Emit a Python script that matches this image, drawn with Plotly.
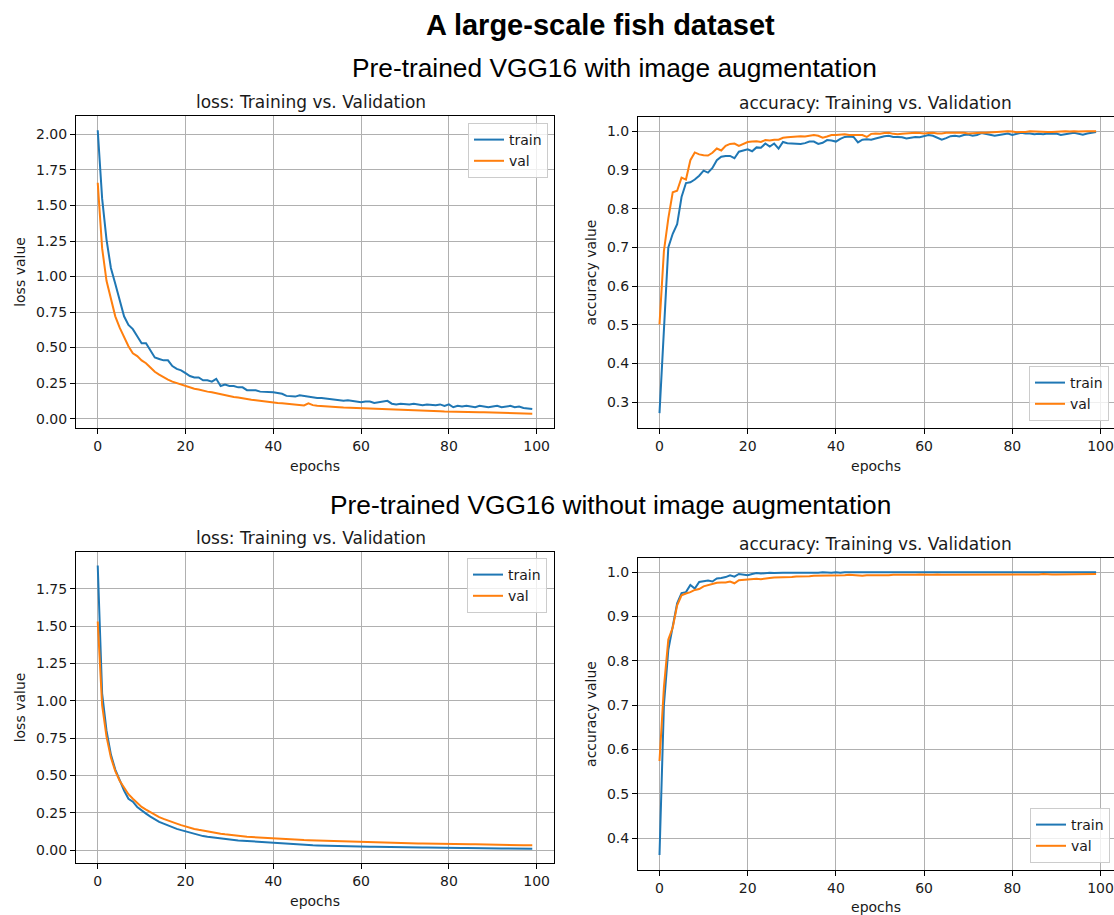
import plotly.graph_objects as go

# ---------------------------------------------------------------------------
# Training history of a pre-trained VGG16 on a large-scale fish dataset
# (100 epochs, with and without image augmentation)
# ---------------------------------------------------------------------------
epochs = list(range(100))

# --- with image augmentation ------------------------------------------------
aug_train_loss = [
    2.03, 1.55, 1.26, 1.06, 0.95, 0.83, 0.72, 0.66, 0.63, 0.58,
    0.53, 0.53, 0.48, 0.43, 0.42, 0.41, 0.41, 0.37, 0.35, 0.34,
    0.32, 0.30, 0.29, 0.29, 0.27, 0.27, 0.26, 0.28, 0.23, 0.24,
    0.23, 0.23, 0.22, 0.22, 0.20, 0.20, 0.20, 0.19, 0.19, 0.19,
    0.185, 0.18, 0.175, 0.16, 0.16, 0.155, 0.165, 0.16, 0.15, 0.145,
    0.145, 0.145, 0.14, 0.135, 0.135, 0.13, 0.125, 0.13, 0.125, 0.12,
    0.115, 0.12, 0.12, 0.11, 0.115, 0.12, 0.125, 0.105, 0.10, 0.105,
    0.10, 0.10, 0.105, 0.10, 0.095, 0.10, 0.095, 0.095, 0.10, 0.09,
    0.10, 0.08, 0.09, 0.085, 0.09, 0.085, 0.08, 0.09, 0.085, 0.08,
    0.085, 0.09, 0.08, 0.085, 0.09, 0.08, 0.085, 0.075, 0.07, 0.068,
]
aug_val_loss = [
    1.66, 1.20, 0.97, 0.84, 0.72, 0.64, 0.57, 0.51, 0.46, 0.44,
    0.41, 0.39, 0.36, 0.33, 0.31, 0.29, 0.275, 0.26, 0.25, 0.24,
    0.228, 0.22, 0.21, 0.205, 0.195, 0.19, 0.185, 0.178, 0.17, 0.165,
    0.158, 0.152, 0.148, 0.142, 0.138, 0.133, 0.13, 0.125, 0.12, 0.115,
    0.112, 0.11, 0.108, 0.106, 0.104, 0.10, 0.098, 0.093, 0.108, 0.095,
    0.09, 0.087, 0.085, 0.083, 0.082, 0.08, 0.078, 0.077, 0.075, 0.073,
    0.072, 0.072, 0.07, 0.07, 0.069, 0.068, 0.067, 0.066, 0.064, 0.063,
    0.062, 0.06, 0.06, 0.058, 0.056, 0.055, 0.054, 0.053, 0.052, 0.05,
    0.05, 0.049, 0.048, 0.047, 0.047, 0.046, 0.045, 0.045, 0.044, 0.043,
    0.042, 0.041, 0.04, 0.04, 0.039, 0.038, 0.037, 0.036, 0.035, 0.035,
]
aug_train_acc = [
    0.272, 0.50, 0.70, 0.735, 0.76, 0.83, 0.866, 0.868, 0.875, 0.885,
    0.898, 0.893, 0.905, 0.925, 0.934, 0.936, 0.936, 0.93, 0.947, 0.95,
    0.953, 0.948, 0.958, 0.957, 0.968, 0.96, 0.968, 0.955, 0.972, 0.969,
    0.968, 0.967, 0.967, 0.969, 0.973, 0.973, 0.967, 0.97, 0.977, 0.976,
    0.973, 0.98, 0.985, 0.986, 0.985, 0.971, 0.978, 0.979, 0.978, 0.981,
    0.985, 0.987, 0.988, 0.985, 0.985, 0.984, 0.981, 0.983, 0.985, 0.984,
    0.987, 0.99, 0.988, 0.984, 0.978, 0.982, 0.987, 0.988, 0.986, 0.99,
    0.991, 0.988, 0.99, 0.995, 0.992, 0.99, 0.988, 0.99, 0.993, 0.994,
    0.99, 0.992, 0.996, 0.994, 0.994, 0.992, 0.993, 0.992, 0.994, 0.993,
    0.994, 0.99, 0.993, 0.994, 0.996, 0.993, 0.991, 0.994, 0.996, 0.998,
]
aug_val_acc = [
    0.501, 0.69, 0.775, 0.842, 0.846, 0.88, 0.875, 0.925, 0.945, 0.94,
    0.938, 0.937, 0.944, 0.955, 0.95, 0.962, 0.967, 0.968, 0.962, 0.968,
    0.972, 0.973, 0.974, 0.972, 0.977, 0.976, 0.978, 0.978, 0.983, 0.984,
    0.985, 0.986, 0.987, 0.986, 0.989, 0.99, 0.988, 0.983, 0.986, 0.99,
    0.99, 0.991, 0.992, 0.99, 0.99, 0.99, 0.99, 0.985, 0.993, 0.994,
    0.993, 0.995, 0.996, 0.993, 0.992, 0.993, 0.994, 0.994, 0.996, 0.995,
    0.994, 0.995, 0.996, 0.994, 0.994, 0.996, 0.996, 0.997, 0.997, 0.996,
    0.994, 0.995, 0.996, 0.996, 0.996, 0.997, 0.997, 0.998, 0.999, 1.0,
    0.999, 0.997, 0.998, 0.998, 1.0, 0.999, 0.999, 0.998, 0.998, 0.998,
    0.999, 0.999, 1.0, 0.999, 1.0, 0.999, 1.0, 1.0, 1.0, 1.0,
]

# --- without image augmentation ---------------------------------------------
noaug_train_loss = [
    1.905, 1.05, 0.80, 0.64, 0.54, 0.47, 0.40, 0.345, 0.325, 0.29,
    0.265, 0.245, 0.225, 0.205, 0.19, 0.178, 0.165, 0.152, 0.143, 0.135,
    0.127, 0.117, 0.108, 0.10, 0.095, 0.09, 0.086, 0.083, 0.08, 0.076,
    0.072, 0.068, 0.066, 0.064, 0.062, 0.058, 0.055, 0.053, 0.05, 0.048,
    0.046, 0.045, 0.043, 0.042, 0.04, 0.039, 0.038, 0.036, 0.034, 0.033,
    0.032, 0.031, 0.031, 0.03, 0.029, 0.028, 0.028, 0.027, 0.027, 0.026,
    0.025, 0.025, 0.024, 0.024, 0.023, 0.022, 0.022, 0.021, 0.021, 0.02,
    0.02, 0.019, 0.019, 0.018, 0.018, 0.018, 0.017, 0.017, 0.017, 0.016,
    0.016, 0.016, 0.015, 0.015, 0.015, 0.014, 0.014, 0.014, 0.013, 0.013,
    0.013, 0.013, 0.012, 0.012, 0.012, 0.012, 0.011, 0.011, 0.011, 0.011,
]
noaug_val_loss = [
    1.53, 0.97, 0.76, 0.62, 0.53, 0.465, 0.42, 0.375, 0.345, 0.315,
    0.29, 0.272, 0.255, 0.238, 0.222, 0.21, 0.198, 0.188, 0.178, 0.168,
    0.158, 0.15, 0.143, 0.137, 0.131, 0.125, 0.12, 0.115, 0.111, 0.107,
    0.103, 0.10, 0.097, 0.094, 0.091, 0.089, 0.087, 0.085, 0.082, 0.08,
    0.078, 0.077, 0.075, 0.074, 0.072, 0.071, 0.07, 0.068, 0.067, 0.066,
    0.065, 0.064, 0.063, 0.062, 0.061, 0.06, 0.059, 0.058, 0.057, 0.056,
    0.055, 0.054, 0.054, 0.053, 0.052, 0.052, 0.051, 0.05, 0.05, 0.049,
    0.048, 0.048, 0.047, 0.046, 0.046, 0.045, 0.045, 0.044, 0.044, 0.043,
    0.043, 0.042, 0.042, 0.041, 0.041, 0.04, 0.04, 0.039, 0.039, 0.038,
    0.038, 0.037, 0.037, 0.036, 0.036, 0.035, 0.035, 0.034, 0.034, 0.034,
]
noaug_train_acc = [
    0.362, 0.70, 0.825, 0.88, 0.93, 0.953, 0.955, 0.971, 0.963, 0.978,
    0.98, 0.981, 0.979, 0.986, 0.987, 0.989, 0.993, 0.99, 0.996, 0.994,
    0.993, 0.996, 0.998, 0.997, 0.998, 0.999, 0.998, 0.999, 0.999, 0.999,
    0.999, 0.999, 0.999, 0.999, 0.998, 0.999, 0.999, 1.0, 0.999, 0.999,
    1.0, 0.999, 1.0, 1.0, 0.999, 1.0, 1.0, 1.0, 0.999, 1.0,
    1.0, 1.0, 0.999, 1.0, 1.0, 1.0, 1.0, 0.999, 1.0, 1.0,
    1.0, 1.0, 1.0, 1.0, 0.999, 1.0, 1.0, 1.0, 1.0, 1.0,
    1.0, 1.0, 1.0, 0.999, 1.0, 1.0, 1.0, 1.0, 1.0, 1.0,
    1.0, 1.0, 1.0, 1.0, 1.0, 1.0, 0.999, 1.0, 1.0, 1.0,
    1.0, 1.0, 1.0, 1.0, 1.0, 1.0, 1.0, 1.0, 1.0, 1.0,
]
noaug_val_acc = [
    0.574, 0.74, 0.848, 0.875, 0.925, 0.948, 0.952, 0.955, 0.96, 0.962,
    0.968, 0.971, 0.973, 0.976, 0.977, 0.977, 0.979, 0.975, 0.982, 0.983,
    0.984, 0.984, 0.985, 0.984, 0.986, 0.987, 0.988, 0.988, 0.989, 0.989,
    0.989, 0.99, 0.99, 0.991, 0.991, 0.992, 0.992, 0.992, 0.993, 0.993,
    0.993, 0.993, 0.993, 0.994, 0.993, 0.993, 0.992, 0.993, 0.993, 0.992,
    0.992, 0.993, 0.993, 0.994, 0.994, 0.994, 0.993, 0.994, 0.994, 0.995,
    0.994, 0.994, 0.994, 0.995, 0.994, 0.994, 0.994, 0.995, 0.995, 0.994,
    0.994, 0.994, 0.995, 0.995, 0.995, 0.995, 0.995, 0.994, 0.995, 0.995,
    0.995, 0.995, 0.995, 0.995, 0.995, 0.995, 0.995, 0.996, 0.995, 0.995,
    0.995, 0.995, 0.996, 0.996, 0.995, 0.995, 0.996, 0.996, 0.996, 0.996,
]

series_labels = ["train", "val"]
panel_titles = ["loss: Training vs. Validation", "accuracy: Training vs. Validation"]
y_titles = ["loss value", "accuracy value"]
x_title = "epochs"
main_title = "A large-scale fish dataset"
row_titles = [
    "Pre-trained VGG16 with image augmentation",
    "Pre-trained VGG16 without image augmentation",
]

# ---------------------------------------------------------------------------
W, H = 1114, 915
BLUE, ORANGE = "#1f77b4", "#ff7f0e"
FONT = "DejaVu Sans"
TEXT = "#1a1a1a"


def fx(px):
    return px / W


def fy(py):
    return 1 - py / H


# axis boxes in pixels: (left, right, top, bottom)
panels = [
    dict(box=(76, 554, 116, 428), yr=[-0.066, 2.13], xr=[-4.95, 103.95], fmt=".2f", dt=0.25,
         data=(aug_train_loss, aug_val_loss), kind=0, title_x=311,
         leg=dict(x=fx(548), y=fy(123), xanchor="right", yanchor="top")),
    dict(box=(638, 1114, 117, 428), yr=[0.2335, 1.0365], xr=[-4.875, 103.06], fmt=".1f", dt=0.1,
         data=(aug_train_acc, aug_val_acc), kind=1, title_x=875,
         leg=dict(x=fx(1109), y=fy(421), xanchor="right", yanchor="bottom")),
    dict(box=(76, 554, 552, 863), yr=[-0.085, 1.995], xr=[-4.95, 103.95], fmt=".2f", dt=0.25,
         data=(noaug_train_loss, noaug_val_loss), kind=0, title_x=311,
         leg=dict(x=fx(547), y=fy(558), xanchor="right", yanchor="top")),
    dict(box=(638, 1114, 558, 870), yr=[0.328, 1.032], xr=[-4.875, 103.06], fmt=".1f", dt=0.1,
         data=(noaug_train_acc, noaug_val_acc), kind=1, title_x=875,
         leg=dict(x=fx(1110), y=fy(863), xanchor="right", yanchor="bottom")),
]

fig = go.Figure()
layout = dict(
    width=W, height=H, margin=dict(l=0, r=0, t=0, b=0),
    template="none", paper_bgcolor="white", plot_bgcolor="white",
    font=dict(family=FONT, size=14, color=TEXT),
    showlegend=True, annotations=[],
)

for i, p in enumerate(panels):
    n = "" if i == 0 else str(i + 1)
    xa, ya = "x" + n, "y" + n
    leg = "legend" + n
    l, r, t, b = p["box"]
    for vals, name, col in zip(p["data"], series_labels, [BLUE, ORANGE]):
        fig.add_trace(go.Scatter(
            x=epochs, y=vals, mode="lines", name=name,
            line=dict(color=col, width=2), xaxis=xa, yaxis=ya, legend=leg,
        ))
    right_col = p["kind"] == 1
    common = dict(
        showline=True, linecolor="black", linewidth=1,
        ticks="outside", ticklen=5, tickwidth=1, tickcolor="black",
        showgrid=True, gridcolor="#b0b0b0", gridwidth=1, zeroline=False,
        tickfont=dict(family=FONT, size=14, color=TEXT), automargin=False,
        ticklabeloverflow="allow",
    )
    layout["xaxis" + n] = dict(
        common, domain=[fx(l), fx(r)], range=p["xr"], anchor=ya,
        tick0=0, dtick=20, mirror=True,
        title=dict(text=x_title, font=dict(family=FONT, size=14, color=TEXT), standoff=8),
    )
    layout["yaxis" + n] = dict(
        common, domain=[fy(b), fy(t)], range=p["yr"], anchor=xa,
        tick0=0, dtick=p["dt"], tickformat=p["fmt"], mirror=not right_col,
        title=dict(text=y_titles[p["kind"]], font=dict(family=FONT, size=14, color=TEXT), standoff=7),
    )
    layout[leg] = dict(
        p["leg"], bgcolor="rgba(255,255,255,0.8)", bordercolor="#cccccc", borderwidth=1,
        font=dict(family=FONT, size=14, color=TEXT), traceorder="normal",
        itemwidth=30, tracegroupgap=0,
    )
    # panel title
    layout["annotations"].append(dict(
        text=panel_titles[p["kind"]], x=fx(p["title_x"]), y=fy(t - 14),
        xref="paper", yref="paper", xanchor="center", yanchor="middle", showarrow=False,
        font=dict(family=FONT, size=17, color=TEXT),
    ))

# figure heading and row headings
layout["annotations"].append(dict(
    text="<b>" + main_title + "</b>", x=fx(600), y=fy(25), xref="paper", yref="paper",
    xanchor="center", yanchor="middle", showarrow=False,
    font=dict(family="Liberation Sans", size=29, color="black"),
))
for txt, (cx, cy) in zip(row_titles, [(614, 68), (610, 505)]):
    layout["annotations"].append(dict(
        text=txt, x=fx(cx), y=fy(cy), xref="paper", yref="paper",
        xanchor="center", yanchor="middle", showarrow=False,
        font=dict(family="Liberation Sans", size=26.3, color="black"),
    ))

fig.update_layout(**layout)
fig.write_html("out.html")
